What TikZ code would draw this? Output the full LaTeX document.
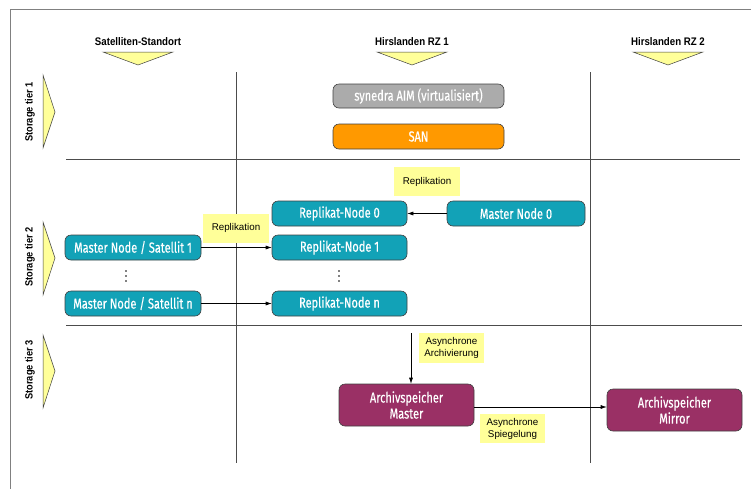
\documentclass[tikz,border=0pt]{standalone}
\usepackage{fontspec}
\setmainfont{Liberation Sans}
\newfontfamily\boxfont[FakeStretch=0.76,FakeBold=0.4]{Fira Sans}
\newfontfamily\headfont[FakeStretch=0.88]{Liberation Sans}
\usetikzlibrary{arrows.meta}
\definecolor{teal1}{HTML}{12A2B7}
\definecolor{gray1}{HTML}{ABABAB}
\definecolor{orange1}{HTML}{FF9900}
\definecolor{purple1}{HTML}{9A3065}
\definecolor{pale}{HTML}{FFFF99}
\definecolor{tri}{HTML}{FFFF99}
\definecolor{edge}{HTML}{404040}
\definecolor{frame}{HTML}{808080}
\tikzset{
  box/.style={draw=edge, line width=0.6pt, rounded corners=6pt, minimum width=135pt,
    minimum height=25pt, inner sep=0pt, text=white, font=\boxfont\fontsize{14.5}{16}\selectfont},
  tealbox/.style={box, fill=teal1},
  archbox/.style={box, fill=purple1, minimum height=42pt, align=center},
  lbl/.style={fill=pale, inner sep=0pt, minimum height=29pt, align=center,
    font=\fontsize{9.8}{12}\selectfont},
  head/.style={font=\headfont\bfseries\fontsize{11}{13}\selectfont},
  tier/.style={font=\headfont\bfseries\fontsize{10.5}{12}\selectfont, rotate=90},
  trishape/.style={fill=tri, draw=edge, line width=0.5pt, line join=miter},
  sep/.style={draw=black!70, line width=0.6pt},
  dotc/.style={fill=black, circle, inner sep=0pt, minimum size=1.6pt},
  conn/.style={draw=black, line width=0.6pt, -{Latex[length=6pt,width=4pt]}}
}
\begin{document}
\begin{tikzpicture}[x=1pt,y=-1pt]
\useasboundingbox (0,0) rectangle (751,488);
% frame
\draw[frame, line width=0.8pt] (10,9) -- (760,9);
\draw[frame, line width=0.8pt] (10,9) -- (10,500);
% separators
\draw[sep] (236,72) -- (236,463);
\draw[sep] (590,72) -- (590,463);
\draw[sep] (66,159) -- (740,159);
\draw[sep] (66,325) -- (742,325);
% headers
\node[head] (h1) at (138,42) {Satelliten-Standort};
\node[head] (h2) at (412,42) {Hirslanden RZ 1};
\node[head] (h3) at (668,42) {Hirslanden RZ 2};
\path[trishape] (103,52) -- (173,52) -- (138,65) -- cycle;
\path[trishape] (377,52) -- (447,52) -- (412,65) -- cycle;
\path[trishape] (633,52) -- (703,52) -- (668,65) -- cycle;
% tiers
\node[tier] (t1) at (30,112) {Storage tier 1};
\node[tier] (t2) at (30,257) {Storage tier 2};
\node[tier] (t3) at (30,370) {Storage tier 3};
\path[trishape] (43,75) -- (55,112) -- (43,148) -- cycle;
\path[trishape] (43,222) -- (55,258) -- (43,295) -- cycle;
\path[trishape] (43,335) -- (55,371) -- (43,408) -- cycle;
% tier 1
\node[box, fill=gray1, minimum width=171pt, minimum height=24pt] (aim) at (418.5,96) {synedra AIM (virtualisiert)};
\node[box, fill=orange1, minimum width=171pt] (san) at (418.5,136.5) {SAN};
% tier 2
\node[tealbox, minimum width=138pt] (m0) at (516,213.5) {Master Node 0};
\node[tealbox] (r0) at (339.5,213.5) {Replikat-Node 0};
\node[tealbox] (r1) at (339.5,247.5) {Replikat-Node 1};
\node[tealbox] (rn) at (339.5,303.5) {Replikat-Node n};
\node[tealbox, minimum width=136pt] (s1) at (133,247.5) {Master Node / Satellit 1};
\node[tealbox, minimum width=136pt] (sn) at (133,303.5) {Master Node / Satellit n};
\foreach \yy [count=\i] in {271,276,281} {
  \node[dotc] (da\i) at (126,\yy) {};
  \node[dotc] (db\i) at (339,\yy) {};
}
\draw[conn] (m0) -- (r0);
\draw[conn] (s1) -- (r1);
\draw[conn] (sn) -- (rn);
\node[lbl, minimum width=66pt] (l1) at (427,181.5) {Replikation};
\node[lbl, minimum width=66pt] (l2) at (236,228) {Replikation};
% tier 3
\node[archbox] (am) at (406.5,405) {Archivspeicher\\Master};
\node[archbox] (mi) at (674.5,410) {Archivspeicher\\Mirror};
\coordinate (src) at (411,333);
\draw[conn] (src) -- (src |- am.north);
\draw[conn] (am.east |- 0,407) -- (mi.west |- 0,407);
\node[lbl, minimum width=65pt, minimum height=30pt] (l3) at (451.5,348) {Asynchrone\\Archivierung};
\node[lbl, minimum width=65pt] (l4) at (512.5,428.5) {Asynchrone\\Spiegelung};
\end{tikzpicture}
\end{document}
